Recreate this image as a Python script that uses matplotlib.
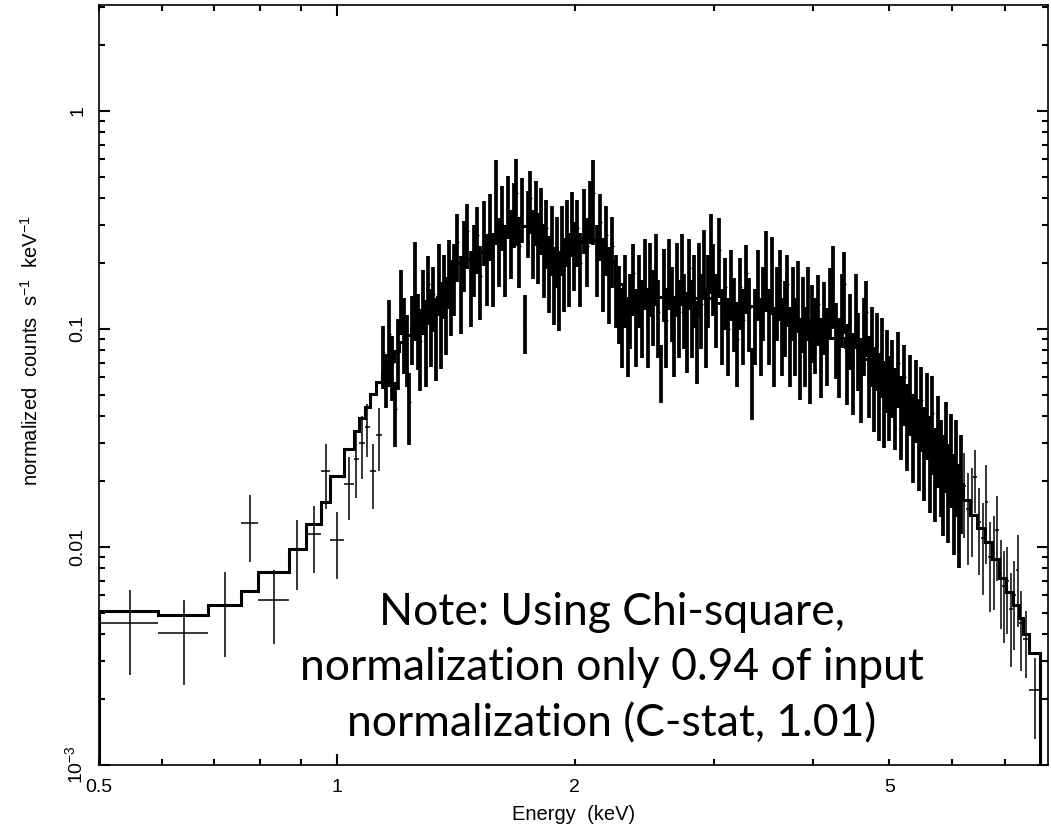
import matplotlib
matplotlib.use("Agg")
import matplotlib.pyplot as plt
import numpy as np
from matplotlib.ticker import NullFormatter

# energy bins (keV) of the grouped spectrum
bin_edges = [
    0.500, 0.593, 0.687, 0.757, 0.794, 0.869, 0.914, 0.956, 0.979, 1.020,
    1.050, 1.066, 1.084, 1.102, 1.120, 1.140,
    1.150, 1.160, 1.170, 1.180, 1.190, 1.200, 1.210, 1.220, 1.230, 1.240,
    1.250, 1.260, 1.270, 1.280, 1.290, 1.300, 1.310, 1.320, 1.330, 1.340,
    1.350, 1.360, 1.370, 1.380, 1.390, 1.400,
    1.414, 1.428, 1.442, 1.456, 1.470, 1.484, 1.498, 1.512, 1.526, 1.540,
    1.554, 1.568, 1.582, 1.596, 1.610, 1.624, 1.638, 1.652, 1.666, 1.680,
    1.694, 1.708, 1.722, 1.736, 1.750, 1.764, 1.778, 1.792, 1.806, 1.820,
    1.834, 1.848, 1.862, 1.876, 1.890, 1.904, 1.918, 1.932, 1.946, 1.960,
    1.974, 1.988, 2.002,
    2.022, 2.042, 2.062, 2.082, 2.102, 2.122, 2.142, 2.162, 2.182, 2.202,
    2.222, 2.242, 2.262, 2.282, 2.302, 2.322, 2.342, 2.362, 2.382, 2.402,
    2.422, 2.442, 2.462, 2.482, 2.502, 2.522, 2.542, 2.562, 2.582, 2.602,
    2.622, 2.642, 2.662, 2.682, 2.702, 2.722, 2.742, 2.762, 2.782, 2.802,
    2.822, 2.842, 2.862, 2.882, 2.902, 2.922, 2.942, 2.962, 2.982, 3.002,
    3.030, 3.058, 3.086, 3.114, 3.142, 3.170, 3.198, 3.226, 3.254, 3.282,
    3.310, 3.338, 3.366, 3.394, 3.422, 3.450, 3.478, 3.506, 3.534, 3.562,
    3.590, 3.618, 3.646, 3.674, 3.702, 3.730, 3.758, 3.786, 3.814, 3.842,
    3.870, 3.898, 3.926, 3.954, 3.982, 4.010,
    4.046, 4.082, 4.118, 4.154, 4.190, 4.226, 4.262, 4.298, 4.334, 4.370,
    4.406, 4.442, 4.478, 4.514, 4.550, 4.586, 4.622, 4.658, 4.694, 4.730,
    4.766, 4.802, 4.838, 4.874, 4.910, 4.946, 4.982, 5.018,
    5.063, 5.108, 5.153, 5.198, 5.243, 5.288, 5.333, 5.378, 5.423, 5.468,
    5.513, 5.558, 5.603, 5.648, 5.693, 5.738, 5.783, 5.828, 5.873, 5.918,
    5.963, 6.008, 6.053, 6.098, 6.143, 6.188,
    6.250, 6.320, 6.390, 6.460, 6.530, 6.600, 6.670, 6.740, 6.810, 6.880,
    6.950, 7.020, 7.090, 7.160, 7.230, 7.300, 7.380, 7.520, 7.760,
]

# normalized counts s^-1 keV^-1
rate = [
    0.00448, 0.00403, 0.00542, 0.0129, 0.00571, 0.0098, 0.0115, 0.0224, 0.0108, 0.0195,
    0.0253, 0.0301, 0.0356, 0.0224, 0.0327,
    0.078, 0.060, 0.095, 0.070, 0.043, 0.082, 0.140, 0.100, 0.085, 0.046,
    0.105, 0.170, 0.105, 0.088, 0.140, 0.095, 0.160, 0.110, 0.145, 0.098,
    0.180, 0.115, 0.165, 0.125, 0.190, 0.150,
    0.18, 0.25, 0.155, 0.23, 0.28, 0.165, 0.22, 0.27, 0.175, 0.29,
    0.20, 0.31, 0.20, 0.42, 0.24, 0.34, 0.22, 0.38, 0.26, 0.35,
    0.42, 0.24, 0.37, 0.11, 0.32, 0.40, 0.26, 0.36, 0.25, 0.33,
    0.22, 0.29, 0.19, 0.27, 0.17, 0.24, 0.16, 0.27, 0.19, 0.29,
    0.20, 0.32, 0.23,
    0.29, 0.20, 0.33, 0.24, 0.36, 0.42, 0.22, 0.31, 0.19, 0.27,
    0.17, 0.24, 0.16, 0.14, 0.11, 0.16, 0.10, 0.13, 0.18, 0.11,
    0.16, 0.12, 0.19, 0.11, 0.18, 0.135, 0.20, 0.12, 0.065, 0.17,
    0.11, 0.19, 0.14, 0.10, 0.18, 0.12, 0.20, 0.13, 0.105, 0.19,
    0.12, 0.16, 0.095, 0.18, 0.13, 0.21, 0.11, 0.16, 0.24, 0.18,
    0.13, 0.23, 0.11, 0.155, 0.10, 0.17, 0.125, 0.09, 0.155, 0.11,
    0.18, 0.125, 0.06, 0.11, 0.17, 0.10, 0.14, 0.20, 0.11, 0.19,
    0.09, 0.14, 0.17, 0.10, 0.12, 0.16, 0.09, 0.14, 0.10, 0.15,
    0.08, 0.125, 0.09, 0.14, 0.078, 0.115,
    0.10, 0.13, 0.08, 0.12, 0.09, 0.14, 0.17, 0.095, 0.08, 0.13,
    0.16, 0.075, 0.105, 0.068, 0.13, 0.085, 0.064, 0.10, 0.12, 0.066,
    0.09, 0.058, 0.085, 0.054, 0.08, 0.05, 0.07, 0.053,
    0.064, 0.047, 0.070, 0.043, 0.060, 0.039, 0.054, 0.035, 0.051, 0.033,
    0.047, 0.030, 0.044, 0.027, 0.041, 0.024, 0.034, 0.026, 0.022, 0.032,
    0.020, 0.028, 0.018, 0.026, 0.016, 0.022,
    0.019, 0.015, 0.016, 0.021, 0.013, 0.011, 0.016, 0.0090, 0.0095, 0.0120,
    0.0075, 0.0066, 0.0070, 0.0052, 0.0060, 0.0078, 0.0045, 0.0038, 0.0022,
]

# 1-sigma error as a fraction of each rate
rate_frac_err = [
    0.42, 0.42, 0.42, 0.34, 0.37, 0.35, 0.34, 0.33, 0.34, 0.32,
    0.34, 0.32, 0.27, 0.33, 0.32,
    0.32, 0.28, 0.43, 0.33, 0.33, 0.36, 0.33, 0.38, 0.36, 0.36,
    0.35, 0.48, 0.38, 0.41, 0.33, 0.43, 0.35, 0.39, 0.33, 0.41,
    0.36, 0.43, 0.33, 0.39, 0.35, 0.38,
    0.36, 0.34, 0.39, 0.36, 0.33, 0.38, 0.36, 0.34, 0.37, 0.33,
    0.36, 0.34, 0.37, 0.42, 0.35, 0.33, 0.36, 0.32, 0.35, 0.33,
    0.43, 0.36, 0.33, 0.30, 0.34, 0.32, 0.35, 0.33, 0.36, 0.34,
    0.37, 0.35, 0.38, 0.35, 0.39, 0.36, 0.39, 0.35, 0.37, 0.34,
    0.37, 0.33, 0.35,
    0.34, 0.37, 0.33, 0.35, 0.32, 0.42, 0.36, 0.34, 0.37, 0.35,
    0.38, 0.36, 0.37, 0.39, 0.40, 0.37, 0.40, 0.38, 0.36, 0.39,
    0.37, 0.39, 0.36, 0.40, 0.37, 0.38, 0.36, 0.39, 0.30, 0.37,
    0.40, 0.36, 0.38, 0.40, 0.37, 0.39, 0.36, 0.38, 0.40, 0.36,
    0.39, 0.37, 0.41, 0.37, 0.38, 0.35, 0.40, 0.37, 0.40, 0.36,
    0.37, 0.40, 0.38, 0.36, 0.39, 0.36, 0.37, 0.40, 0.36, 0.38,
    0.35, 0.37, 0.36, 0.38, 0.36, 0.39, 0.37, 0.40, 0.38, 0.39,
    0.40, 0.37, 0.36, 0.39, 0.38, 0.36, 0.40, 0.37, 0.39, 0.36,
    0.41, 0.38, 0.40, 0.37, 0.42, 0.39,
    0.38, 0.36, 0.40, 0.37, 0.39, 0.36, 0.41, 0.38, 0.40, 0.37,
    0.41, 0.40, 0.38, 0.41, 0.37, 0.39, 0.42, 0.39, 0.38, 0.41,
    0.40, 0.42, 0.39, 0.43, 0.40, 0.43, 0.41, 0.42,
    0.39, 0.41, 0.38, 0.42, 0.40, 0.43, 0.40, 0.44, 0.41, 0.45,
    0.42, 0.46, 0.43, 0.47, 0.48, 0.46, 0.45, 0.47, 0.49, 0.45,
    0.48, 0.46, 0.49, 0.47, 0.50, 0.48,
    0.42, 0.45, 0.44, 0.32, 0.43, 0.45, 0.48, 0.44, 0.46, 0.42,
    0.44, 0.45, 0.43, 0.46, 0.44, 0.45, 0.40, 0.34, 0.40,
]

# folded model (stepped)
model_edges = [
    0.500, 0.593, 0.687, 0.757, 0.794, 0.869, 0.914, 0.956, 0.979, 1.020,
    1.050, 1.066, 1.084, 1.102, 1.120, 1.140, 1.16, 1.18, 1.20, 1.22,
    1.24, 1.26, 1.28, 1.30, 1.32, 1.34, 1.36, 1.38, 1.40, 1.45,
    1.50, 1.55, 1.60, 1.65, 1.70, 1.75, 1.80, 1.85, 1.90, 1.95,
    2.00, 2.05, 2.10, 2.15, 2.20, 2.25, 2.30, 2.40, 2.60, 2.80,
    3.00, 3.20, 3.40, 3.60, 3.80, 4.00, 4.20, 4.40, 4.60, 4.80,
    5.00, 5.15, 5.30, 5.45, 5.60, 5.75, 5.90, 6.05, 6.19, 6.32,
    6.46, 6.60, 6.74, 6.88, 7.02, 7.16, 7.30, 7.38, 7.52, 7.76,
]
model_rate = [
    0.00508, 0.00490, 0.00542, 0.0063, 0.00768, 0.0098, 0.0127, 0.0161, 0.0212, 0.0282,
    0.0342, 0.0389, 0.0440, 0.0503, 0.0573, 0.063, 0.071, 0.079, 0.087, 0.094,
    0.101, 0.108, 0.116, 0.123, 0.130, 0.140, 0.152, 0.165, 0.20, 0.21,
    0.225, 0.25, 0.27, 0.285, 0.295, 0.29, 0.265, 0.235, 0.225, 0.235,
    0.25, 0.26, 0.255, 0.235, 0.205, 0.16, 0.135, 0.14, 0.14, 0.138,
    0.132, 0.128, 0.123, 0.116, 0.107, 0.098, 0.091, 0.083, 0.073, 0.064,
    0.055, 0.049, 0.043, 0.037, 0.032, 0.0272, 0.0228, 0.0195, 0.0165, 0.0140,
    0.0122, 0.0105, 0.0088, 0.0072, 0.0062, 0.0054, 0.0047, 0.0040, 0.00328,
]

x_minor_ticks = [0.5, 0.6, 0.7, 0.8, 0.9, 2, 3, 4, 5, 6, 7]
x_minor_labels = ['0.5', '', '', '', '', '2', '', '', '5', '', '']
y_ticks = [1e-3, 1e-2, 1e-1, 1]
y_tick_labels = [r'$10^{-3}$', '0.01', '0.1', '1']

note = ("Note: Using Chi-square,\n"
        "normalization only 0.94 of input\n"
        "normalization (C-stat, 1.01)")

plt.rcParams['font.family'] = 'Liberation Sans'
plt.rcParams['mathtext.fontset'] = 'custom'
plt.rcParams['mathtext.rm'] = 'Liberation Sans'
plt.rcParams['mathtext.it'] = 'Liberation Sans:italic'

edges = np.array(bin_edges)
lo, hi = edges[:-1], edges[1:]
centers = 0.5 * (lo + hi)
rate = np.array(rate)
yerr = rate * np.array(rate_frac_err)
xerr = np.vstack([centers - lo, hi - centers])

fig = plt.figure(figsize=(10.51, 8.32), dpi=100)
ax = fig.add_axes([99 / 1051, 67 / 832, 949 / 1051, 760 / 832])
ax.set_xscale('log')
ax.set_yscale('log')

ax.stairs(model_rate, model_edges, color='black', linewidth=2.2, zorder=2)

# sparse bins at both ends: plain thin crosses
n_low, n_tail = 15, 19
sparse = np.r_[0:n_low, len(rate) - n_tail:len(rate)]
dense = np.arange(n_low, len(rate) - n_tail)
ax.errorbar(centers[sparse], rate[sparse], yerr=yerr[sparse],
            xerr=xerr[:, sparse], fmt='none', ecolor='black',
            elinewidth=1.1, capsize=0, zorder=3)
# crowded bins: heavy vertical bars so they merge like the original, thin bin widths
ax.errorbar(centers[dense], rate[dense], yerr=yerr[dense],
            fmt='none', ecolor='black', elinewidth=2.7, capsize=0, zorder=3)
ax.errorbar(centers[dense], rate[dense], xerr=xerr[:, dense],
            fmt='none', ecolor='black', elinewidth=1.0, capsize=0, zorder=3)

ax.set_xlim(0.5, 7.94)
ax.set_ylim(1e-3, 3.06)

ax.set_xticks([1], labels=['1'])
ax.set_xticks(x_minor_ticks, labels=x_minor_labels, minor=True)
ax.set_yticks(y_ticks, labels=y_tick_labels)
ax.yaxis.set_minor_formatter(NullFormatter())
for lab in ax.get_yticklabels():
    lab.set_rotation(90)
    lab.set_verticalalignment('center')

ax.tick_params(which='both', direction='in', top=True, right=True,
               labelsize=14, width=1.5, colors='black')
ax.tick_params(which='major', length=8)
ax.tick_params(which='minor', length=4.3)
ax.tick_params(axis='x', which='both', pad=10)
ax.tick_params(axis='y', which='both', pad=9)
for sp in ax.spines.values():
    sp.set_linewidth(1.2)

ax.set_xlabel('Energy  (keV)', fontsize=14.5)
ax.xaxis.set_label_coords(0.5, -0.052)
ax.set_ylabel(r'normalized  counts  s$^{-1}$  keV$^{-1}$', fontsize=14.5)
ax.yaxis.set_label_coords(-0.06, 0.545)

fig.text(612 / 1051, 1 - 668 / 832, note, ha='center', va='center',
         fontsize=32, family='Lato', linespacing=1.45, color='black')

fig.savefig('out.png', dpi=100)
